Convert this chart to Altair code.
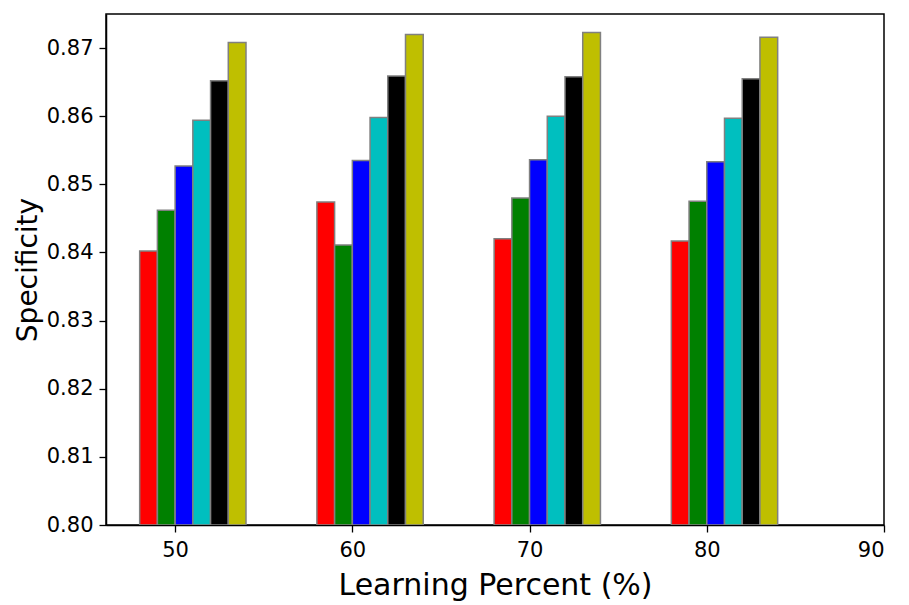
import altair as alt
import pandas as pd

percents = [50, 60, 70, 80]
series = ["S1", "S2", "S3", "S4", "S5", "S6"]
colors = ["#ff0000", "#008000", "#0000ff", "#00bfbf", "#000000", "#bfbf00"]
values = {
    "S1": [0.8402, 0.8474, 0.8420, 0.8417],
    "S2": [0.8462, 0.8411, 0.8480, 0.8475],
    "S3": [0.8527, 0.8535, 0.8536, 0.8533],
    "S4": [0.8594, 0.8598, 0.8600, 0.8597],
    "S5": [0.8652, 0.8659, 0.8658, 0.8655],
    "S6": [0.8708, 0.8720, 0.8723, 0.8716],
}

rows = []
for i, s in enumerate(series):
    for j, p in enumerate(percents):
        rows.append({"pct": p, "series": s, "idx": i, "value": values[s][j]})
df = pd.DataFrame(rows)

chart = (
    alt.Chart(df)
    .transform_calculate(x0="datum.pct - 2 + datum.idx", x1="datum.pct - 1 + datum.idx", base="0.8")
    .mark_bar(stroke="#808080", strokeWidth=1.5, clip=True)
    .encode(
        x=alt.X("x0:Q", scale=alt.Scale(domain=[46.1, 90], nice=False, zero=False),
                axis=alt.Axis(values=[50, 60, 70, 80, 90], format="d", title="Learning Percent (%)")),
        x2="x1:Q",
        y=alt.Y("value:Q", scale=alt.Scale(domain=[0.80, 0.875], nice=False, zero=False),
                axis=alt.Axis(values=[0.80, 0.81, 0.82, 0.83, 0.84, 0.85, 0.86, 0.87], format=".2f", title="Specificity")),
        y2="base:Q",
        color=alt.Color("series:N", scale=alt.Scale(domain=series, range=colors), legend=None),
    )
    .properties(
        width=778,
        height=511,
        autosize=alt.AutoSizeParams(type="none"),
        padding={"left": 98, "top": 6, "right": 17, "bottom": 80},
    )
    .configure_view(stroke="#000000", strokeWidth=1.5)
    .configure_axis(
        grid=False,
        domainColor="#000000",
        domainWidth=1.5,
        tickColor="#000000",
        tickWidth=1.3,
        tickSize=7,
        labelFont="DejaVu Sans",
        labelFontSize=21,
        labelColor="#000000",
        titleFont="DejaVu Sans",
        titleFontSize=30,
        titleFontWeight="normal",
        titleColor="#000000",
        labelPadding=6,
    )
    .configure_axisX(titlePadding=10, labelPadding=7)
    .configure_axisY(titlePadding=4, titleFontSize=28)
)

chart.save("out.html", embed_options={"renderer": "svg", "actions": False})
